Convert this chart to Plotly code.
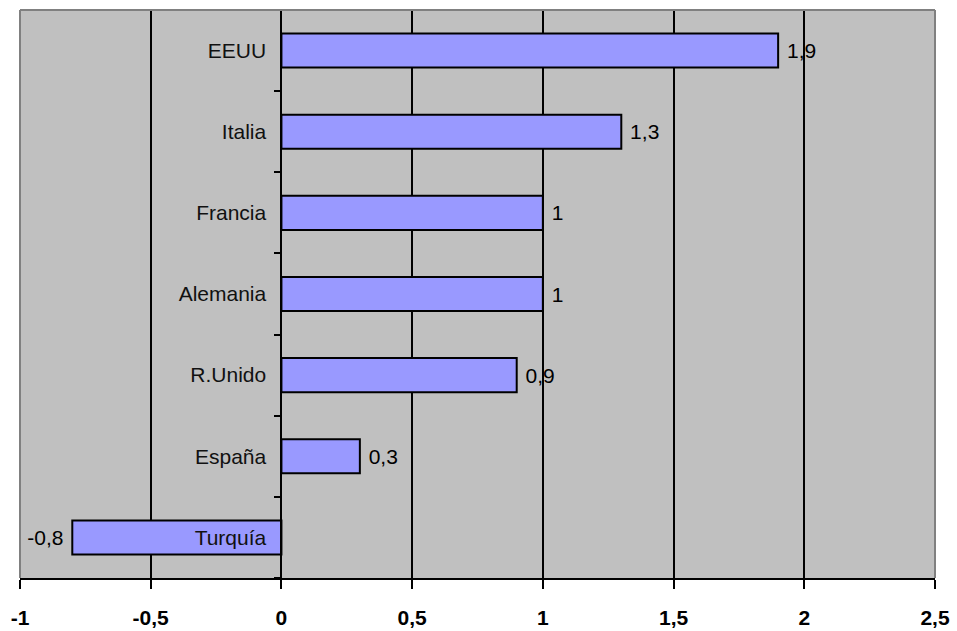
import plotly.graph_objects as go

countries = ["Turquía", "España", "R.Unido", "Alemania", "Francia", "Italia", "EEUU"]
values = [-0.8, 0.3, 0.9, 1.0, 1.0, 1.3, 1.9]
x_tickvals = [-1, -0.5, 0, 0.5, 1, 1.5, 2, 2.5]
x_ticktext = ["-1", "-0,5", "0", "0,5", "1", "1,5", "2", "2,5"]

NB = "\u00a0"
labels = []
for v in values:
    s = ("%g" % v).replace(".", ",")
    labels.append(NB + s if v >= 0 else s + NB)

fig = go.Figure(go.Bar(
    x=values, y=countries, orientation="h",
    width=0.42,
    marker=dict(color="#9999FF", line=dict(color="black", width=2)),
    text=labels, textposition="outside",
    textfont=dict(family="Liberation Sans, Arial", size=21, color="black"),
    cliponaxis=False,
))

xmin, xmax = -1, 2.5
fig.update_layout(
    width=957, height=631,
    margin=dict(l=20, r=22, t=10, b=53),
    paper_bgcolor="white", plot_bgcolor="#C0C0C0",
    showlegend=False,
    xaxis=dict(
        range=[xmin, xmax], tickvals=x_tickvals, ticktext=x_ticktext,
        automargin=False,
        showgrid=True, gridcolor="black", gridwidth=2,
        zeroline=True, zerolinecolor="black", zerolinewidth=2,
        showline=True, linecolor="black", linewidth=2,
        ticks="outside", ticklen=9, tickwidth=2, tickcolor="black",
        ticklabelstandoff=11,
        tickfont=dict(family="Liberation Sans, Arial", size=21, color="black", weight="bold"),
    ),
    yaxis=dict(
        anchor="free", position=(0 - xmin) / (xmax - xmin),
        automargin=False,
        showline=True, linecolor="black", linewidth=2,
        ticks="outside", ticklen=6, tickwidth=2, tickcolor="black",
        tickson="boundaries", showgrid=False,
        ticklabelstandoff=10,
        tickfont=dict(family="Liberation Sans, Arial", size=21, color="#111111"),
    ),
    shapes=[
        dict(type="line", xref="paper", yref="paper", x0=0, x1=1, y0=1, y1=1,
             line=dict(color="#808080", width=2), layer="above"),
        dict(type="line", xref="paper", yref="paper", x0=0, x1=0, y0=0, y1=1,
             line=dict(color="#808080", width=2), layer="above"),
        dict(type="line", xref="paper", yref="paper", x0=1, x1=1, y0=0, y1=1,
             line=dict(color="#808080", width=2), layer="above"),
    ],
)

fig.write_html("out.html")
